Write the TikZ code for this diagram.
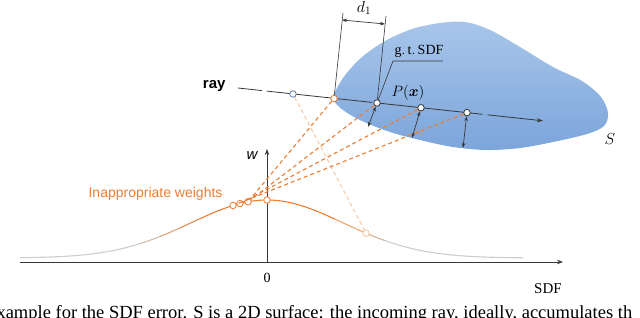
\RequirePackage{fix-cm}
\documentclass[tikz,border=0pt]{standalone}
\usepackage{amsmath}
\usepackage{fontspec}
\setmainfont{Liberation Serif}
\newfontfamily\arialfont{Liberation Sans}
\usetikzlibrary{arrows.meta, positioning, calc}
\definecolor{jingga}{RGB}{237,125,49}
\definecolor{birumuda}{RGB}{168,198,234}
\definecolor{birutua}{RGB}{124,165,219}
\definecolor{garisgelap}{RGB}{55,55,55}
\definecolor{abukurva}{RGB}{205,205,205}
\definecolor{birugaris}{RGB}{95,125,165}
\newcommand{\wcurve}[1]{258-58*exp(-0.5*((#1-267)/76)^2)}

\begin{document}
\begin{tikzpicture}[x=1pt, y=-1pt, font=\arialfont,
        dot/.style={circle, draw=garisgelap, fill=white, line width=0.8pt,
                    inner sep=0pt, minimum size=6.5pt},
        wline/.style={draw=jingga, line width=1.1pt, dash pattern=on 4pt off 3pt},
        kurva/.style={line width=1.1pt},
        axis/.style={draw=garisgelap, line width=1pt, -{Stealth[length=6pt, width=4.5pt]}},
        gap/.style={draw=garisgelap, line width=0.7pt,
                    {Stealth[length=5pt, width=3.5pt]}-{Stealth[length=5pt, width=3.5pt]}}
    ]
        \useasboundingbox (0,0) rectangle (640,318);

        % permukaan S
        \shade[top color=birumuda, bottom color=birutua]
            plot[smooth cycle, tension=0.55] coordinates {(333,99) (337,88) (346,74) (362,57)
            (385,41) (412,29) (440,23) (465,22) (490,30) (520,47) (553,67) (582,81) (601,97)
            (608,113) (604,126) (587,134) (553,142) (520,148) (487,150) (453,147) (420,140)
            (390,132) (362,121) (343,110)};

        % sumbu
        \coordinate (o)      at (267,262);
        \coordinate (xkiri)  at (20,262);
        \coordinate (xkanan) at (563,262);
        \coordinate (wtop)   at (267,149);
        \draw[axis] (xkiri) -- (xkanan);
        \draw[axis] (o) -- (wtop);

        % kurva bobot
        \draw[kurva, abukurva]           plot[domain=20:140, samples=40]  (\x,{\wcurve{\x}});
        \draw[kurva, jingga!25!abukurva] plot[domain=140:160, samples=8]  (\x,{\wcurve{\x}});
        \draw[kurva, jingga!55!abukurva] plot[domain=160:180, samples=8]  (\x,{\wcurve{\x}});
        \draw[kurva, jingga!80!abukurva] plot[domain=180:200, samples=8]  (\x,{\wcurve{\x}});
        \draw[kurva, jingga]             plot[domain=200:335, samples=40] (\x,{\wcurve{\x}});
        \draw[kurva, jingga!70]          plot[domain=335:366, samples=10] (\x,{\wcurve{\x}});
        \draw[kurva, jingga!35!abukurva] plot[domain=366:385, samples=8]  (\x,{\wcurve{\x}});
        \draw[kurva, abukurva]           plot[domain=385:523, samples=40] (\x,{\wcurve{\x}});

        % titik pada sinar
        \coordinate (rayA) at (238,88);
        \coordinate (rayB) at (543,120.8);
        \draw[garisgelap, line width=0.8pt, dash pattern=on 106pt off 5pt, dash phase=82pt,
              -{Stealth[length=6pt, width=4pt]}] (rayA) -- (rayB);
        \node[dot, draw=birugaris] (q0) at (293,94)    {};
        \node[dot, draw=jingga]    (q1) at (334,98.5)  {};
        \node[dot]                 (px) at (377,103)   {};
        \node[dot]                 (q3) at (421,107.7) {};
        \node[dot]                 (q4) at (467,112.6) {};

        % titik pada kurva
        \node[dot, draw=jingga]    (c1) at (233,205.5) {};
        \node[dot, draw=jingga]    (c2) at (240,203.5) {};
        \node[dot, draw=jingga]    (c3) at (248,201.8) {};
        \node[dot, draw=jingga]    (c0) at (267,200)   {};
        \node[dot, draw=jingga!45] (c5) at (366,233.2) {};

        \draw[wline, draw=jingga!40] (q0) -- (c5);
        \draw[wline] (q1) -- (c3);
        \draw[wline] (px) -- (c3);
        \draw[wline] (q3) -- (c2);
        \draw[wline] (q4) -- (c1);

        % jarak ke permukaan
        \coordinate (n2) at (368,127);
        \coordinate (n3) at (412,138);
        \coordinate (n4) at (463,148);
        \draw[gap] (px) -- (n2);
        \draw[gap] (q3) -- (n3);
        \draw[gap] (q4) -- (n4);

        % d1 dan g.t. SDF
        \coordinate (e1)  at (343,13);
        \coordinate (e2)  at (386,16);
        \coordinate (d1a) at (342,20);
        \coordinate (d1b) at (385,24);
        \draw[garisgelap, line width=0.6pt] (q1) -- (e1);
        \draw[garisgelap, line width=0.6pt] (px) -- (e2);
        \draw[gap] (d1a) -- (d1b);
        \coordinate (gt1) at (393,61);
        \coordinate (gt2) at (443,61);
        \draw[garisgelap, line width=0.6pt] (px) -- (gt1) -- (gt2);

        % label
        \node[font=\fontsize{16}{16}\selectfont] (d1lab) at (364,8) {$d_1$};
        \node[font=\fontsize{14}{14}\selectfont] (gtlab) at (419,51) {$\mathrm{g.\,t.\,SDF}$};
        \node[font=\fontsize{15}{15}\selectfont] (plab) at (408,93) {$P(\boldsymbol{x})$};
        \node[font=\fontsize{16}{16}\selectfont] (slab) at (610,139) {$S$};
        \node[font=\arialfont\bfseries\fontsize{15}{15}\selectfont, anchor=base east]
            (raylab) at (229,89) {ray};
        \node[font=\arialfont\itshape\fontsize{15}{15}\selectfont, anchor=base east]
            (wlab) at (261,160) {w};
        \node[font=\arialfont\fontsize{14}{14}\selectfont, text=jingga, anchor=base east]
            (inlab) at (226,197) {Inappropriate weights};
        \node[font=\rmfamily\fontsize{14}{14}\selectfont, anchor=base] (nol) at (267,282) {0};
        \node[font=\rmfamily\fontsize{15}{15}\selectfont, anchor=base] (sdflab) at (548,293) {SDF};
        \node[font=\rmfamily\fontsize{18.5}{18.5}\selectfont, anchor=base west] (capt) at (-7,318.5)
            {xample for the SDF error. S is a 2D surface: the incoming ray, ideally, accumulates th};
    \end{tikzpicture}
\end{document}
